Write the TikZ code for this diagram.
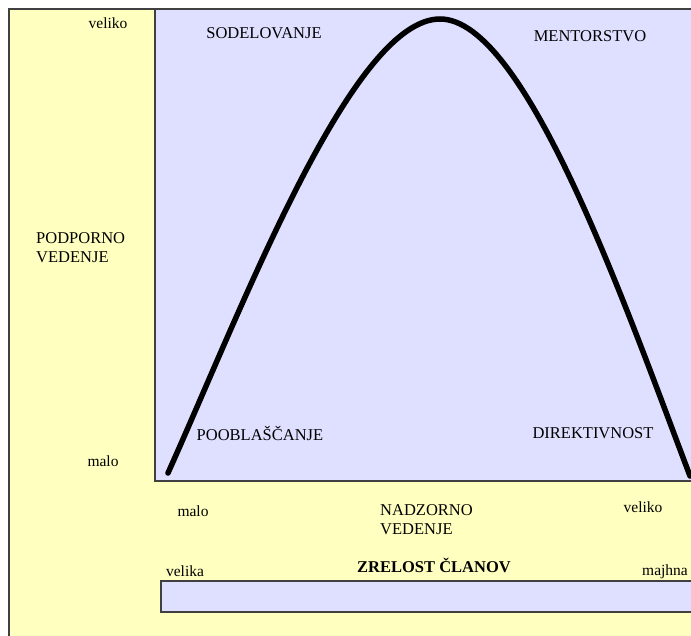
\documentclass[tikz,border=0pt]{standalone}
\usepackage{fontspec}
\setmainfont{Liberation Serif}
\usetikzlibrary{positioning}

\definecolor{paleyellow}{RGB}{255,255,192}
\definecolor{paleblue}{RGB}{223,223,255}
\definecolor{frame}{RGB}{64,64,64}

\begin{document}
\begin{tikzpicture}[x=1pt,y=-1pt,
    box/.style={draw=frame,line width=1.3pt},
    caps/.style={inner sep=0pt,font=\fontsize{16.5}{19}\selectfont},
    small/.style={inner sep=0pt,font=\fontsize{15.5}{18}\selectfont},
    curve/.style={line width=5.5pt,line cap=round,line join=round}]

\useasboundingbox (0,0) rectangle (691,636);
\clip (0,0) rectangle (691,636);

% panels
\path[box,fill=paleyellow] (9,9) rectangle (720,680);
\path[box,fill=paleblue]   (155,9) rectangle (720,481);
\path[box,fill=paleblue]   (161,581) rectangle (720,612);

% the bell curve
\coordinate (start) at (168,473);
\coordinate (top)   at (440,19);
\coordinate (stop)  at (690,476);
\draw[curve] (start) .. controls (243,306) and (352,19) .. (top)
                     .. controls (525,19) and (624,302) .. (stop);

% quadrant labels
\node[caps] (sodel)  at (264,33)  {SODELOVANJE};
\node[caps] (mentor) at (590,36)  {MENTORSTVO};
\node[caps] (poobl)  at (260,433) {POOBLAŠČANJE};
\node[caps] (direkt) at (593,433) {DIREKTIVNOST};

% vertical axis
\node[small] (vvel) at (108,23)  {veliko};
\node[small] (vmal) at (103,461) {malo};
\node[caps,anchor=west,align=left] (podp) at (36,248) {PODPORNO\\VEDENJE};

% horizontal axis
\node[small] (hmal) at (193,511) {malo};
\node[small] (hvel) at (643,507) {veliko};
\node[caps,anchor=west,align=left] (nadz) at (380,520) {NADZORNO\\VEDENJE};

% maturity bar
\node[small] (velika) at (185,571) {velika};
\node[caps,font=\fontsize{16.5}{19}\selectfont\bfseries] (zrel) at (434,565) {ZRELOST ČLANOV};
\node[small,anchor=west] (majhna) at (642,572) {majhna};
\end{tikzpicture}
\end{document}
